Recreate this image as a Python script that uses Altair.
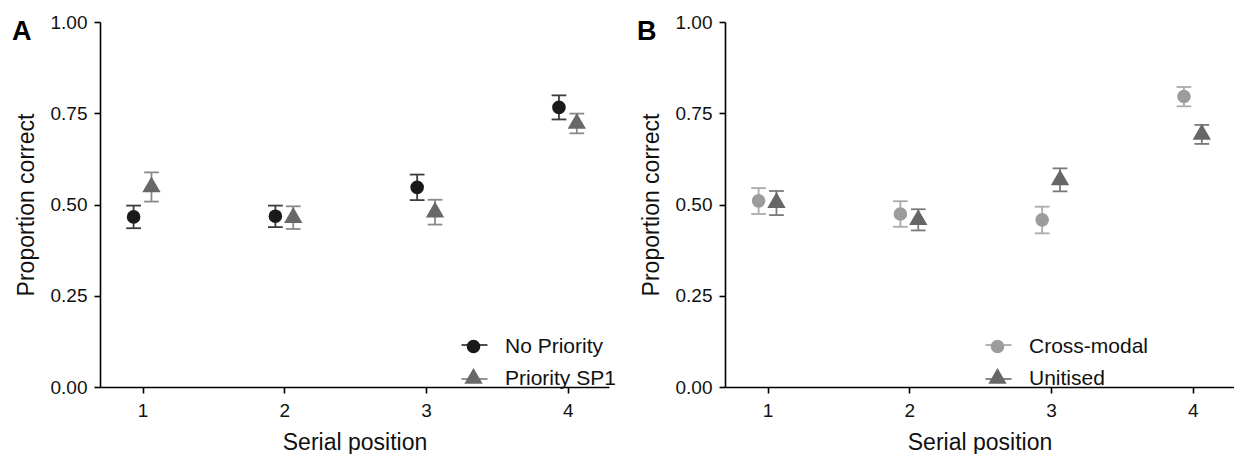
import altair as alt
import pandas as pd

positions = [1, 2, 3, 4]

a_groups = ["No Priority", "Priority SP1"]
a_np_mean = [0.466, 0.468, 0.547, 0.766]
a_np_lo = [0.435, 0.438, 0.512, 0.733]
a_np_hi = [0.497, 0.497, 0.582, 0.799]
a_p_mean = [0.548, 0.464, 0.479, 0.722]
a_p_lo = [0.508, 0.433, 0.445, 0.695]
a_p_hi = [0.588, 0.495, 0.513, 0.749]

b_groups = ["Cross-modal", "Unitised"]
b_cm_mean = [0.510, 0.474, 0.458, 0.796]
b_cm_lo = [0.474, 0.439, 0.421, 0.769]
b_cm_hi = [0.545, 0.509, 0.494, 0.822]
b_u_mean = [0.505, 0.458, 0.567, 0.692]
b_u_lo = [0.471, 0.429, 0.536, 0.666]
b_u_hi = [0.537, 0.487, 0.599, 0.718]

a_fill = ["#1a1a1a", "#686868"]
a_err = ["#3c3c3c", "#8a8a8a"]
b_fill = ["#9c9c9c", "#666666"]
b_err = ["#ababab", "#7a7a7a"]

FONT = "Liberation Sans"
TRI = "M0,-1.555L1.347,0.778L-1.347,0.778Z"
PT_SIZE = 185
W = 509
H = 365


def frame(groups, means, los, his):
    rows = []
    for gi, g in enumerate(groups):
        for p, m, lo, hi in zip(positions, means[gi], los[gi], his[gi]):
            rows.append({"pos": p, "group": g, "group_e": g, "side": gi,
                         "mean": m, "lo": lo, "hi": hi})
    return pd.DataFrame(rows)


def panel(df, letter, groups, fills, errs, lx, ly):
    xscale = alt.Scale(domain=[0.7, 4.29], nice=False, zero=False)
    xaxis = alt.Axis(values=[1, 2, 3, 4], format="d", title="Serial position")
    yscale = alt.Scale(domain=[0, 1], nice=False)
    yaxis = alt.Axis(values=[0, 0.25, 0.5, 0.75, 1], format=".2f",
                     title="Proportion correct")

    base = (alt.Chart(df)
            .transform_calculate(xd="datum.pos + (datum.side == 0 ? -0.063 : 0.063)")
            .transform_calculate(xl="datum.xd - 0.052", xr="datum.xd + 0.052"))

    stroke_enc = alt.Stroke(
        "group_e:N", scale=alt.Scale(range=errs),
        legend=alt.Legend(title=None, orient="none", legendX=lx - 2.5, legendY=ly - 5,
                          symbolType="stroke", symbolSize=676,
                          symbolStrokeWidth=1.8, labelOpacity=0, labelExpr="' '",
                          labelFont=FONT, labelFontSize=21, rowPadding=10,
                          labelOffset=4, padding=0))

    vline = base.mark_rule(strokeWidth=1.8).encode(
        x=alt.X("xd:Q", scale=xscale, axis=xaxis),
        y=alt.Y("lo:Q", scale=yscale, axis=yaxis),
        y2="hi:Q",
        stroke=stroke_enc)
    cap_lo = base.mark_rule(strokeWidth=1.8).encode(
        x=alt.X("xl:Q", scale=xscale, axis=xaxis),
        x2="xr:Q",
        y=alt.Y("lo:Q", scale=yscale, axis=yaxis),
        stroke=stroke_enc)
    cap_hi = base.mark_rule(strokeWidth=1.8).encode(
        x=alt.X("xl:Q", scale=xscale, axis=xaxis),
        x2="xr:Q",
        y=alt.Y("hi:Q", scale=yscale, axis=yaxis),
        stroke=stroke_enc)

    pleg = alt.Legend(title=None, orient="none", legendX=lx, legendY=ly,
                      symbolSize=PT_SIZE, symbolStrokeWidth=0,
                      labelFont=FONT, labelFontSize=21, labelColor="#111111",
                      rowPadding=10, labelOffset=21, padding=0)
    pts = base.mark_point(filled=True, opacity=1, size=PT_SIZE, strokeWidth=0).encode(
        x=alt.X("xd:Q", scale=xscale, axis=xaxis),
        y=alt.Y("mean:Q", scale=yscale, axis=yaxis),
        fill=alt.Fill("group:N", scale=alt.Scale(domain=groups, range=fills), legend=pleg),
        shape=alt.Shape("group:N", scale=alt.Scale(domain=groups, range=["circle", TRI]),
                        legend=pleg))

    lab = alt.Chart(pd.DataFrame({"t": [letter]})).mark_text(
        font=FONT, fontSize=27, fontWeight="bold", align="left",
        baseline="alphabetic", color="#000000").encode(
        text="t:N", x=alt.value(-88), y=alt.value(18))

    return alt.layer(vline, cap_lo, cap_hi, pts, lab).properties(width=W, height=H)


dfa = frame(a_groups, [a_np_mean, a_p_mean], [a_np_lo, a_p_lo], [a_np_hi, a_p_hi])
dfb = frame(b_groups, [b_cm_mean, b_u_mean], [b_cm_lo, b_u_lo], [b_cm_hi, b_u_hi])

pa = panel(dfa, "A", a_groups, a_fill, a_err, 363, 314)
pb = panel(dfb, "B", b_groups, b_fill, b_err, 262, 314)

chart = (alt.hconcat(pa, pb, spacing=116, bounds="flush")
         .resolve_scale(fill="independent", shape="independent", stroke="independent")
         .resolve_legend(fill="independent", shape="independent", stroke="independent")
         .properties(padding={"left": 4, "top": 5, "right": 0, "bottom": 0})
         .configure_view(stroke=None)
         .configure_axis(grid=False, domainColor="#000000", domainWidth=1.6,
                         tickColor="#000000", tickWidth=1.6, tickSize=6,
                         labelFont=FONT, labelFontSize=19, labelColor="#111111",
                         titleFont=FONT, titleFontSize=23, titleFontWeight="normal",
                         titleColor="#111111")
         .configure_axisX(labelPadding=8, titlePadding=11)
         .configure_axisY(labelPadding=7, titlePadding=12))

chart.save("out.html", embed_options={"renderer": "svg", "actions": False})
